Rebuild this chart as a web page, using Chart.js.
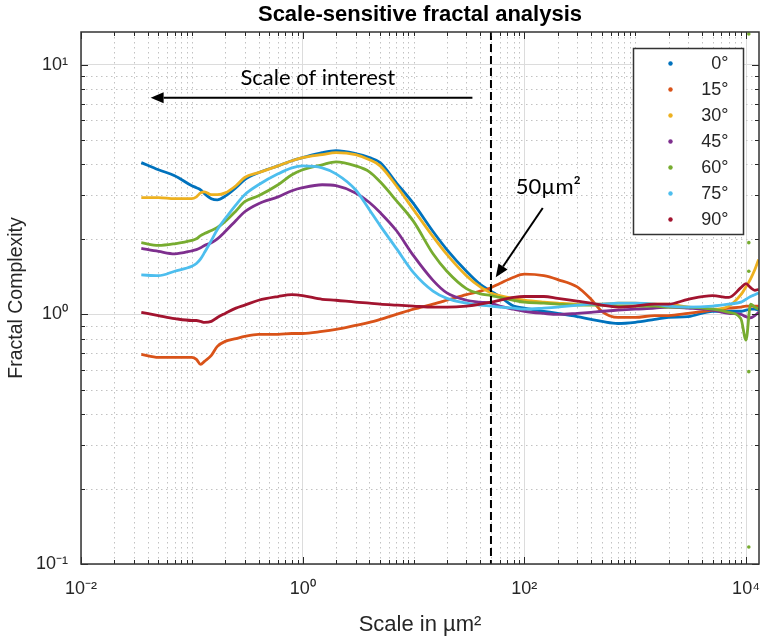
<!DOCTYPE html>
<html>
<head>
<meta charset="utf-8">
<script src="https://cdn.jsdelivr.net/npm/chart.js@4.4.1/dist/chart.umd.min.js"></script>
<style>
  html, body { margin: 0; padding: 0; background: #ffffff; }
  #wrap { width: 764px; height: 641px; position: relative; }
  canvas { display: block; }
</style>
</head>
<body>
<div id="wrap"><canvas id="c" width="764" height="641"></canvas></div>
<script>
// ---------- data ----------
const scaleValues = [0.035, 0.05, 0.07, 0.1, 0.11, 0.12, 0.13, 0.15, 0.17, 0.2, 0.25, 0.3, 0.4, 0.6, 0.8, 1, 1.5, 2, 3, 4, 5, 7, 10, 15, 20, 30, 40, 50, 60, 80, 100, 150, 200, 300, 400, 500, 700, 1000, 1500, 2000, 3000, 5000, 7000, 9000, 10000, 11000, 12000, 13000];

const angleLabels = ['0°', '15°', '30°', '45°', '60°', '75°', '90°'];

const deg0  = [4.06, 3.80, 3.60, 3.28, 3.22, 3.16, 3.05, 2.91, 2.88, 2.98, 3.22, 3.47, 3.70, 3.94, 4.13, 4.25, 4.45, 4.53, 4.41, 4.25, 4.06, 3.37, 2.78, 2.15, 1.82, 1.49, 1.32, 1.24, 1.18, 1.08, 1.06, 1.03, 1.01, 0.98, 0.955, 0.938, 0.92, 0.93, 0.955, 0.973, 0.98, 1.03, 1.03, 1.03, 1.04, 1.05, 1.05, 1.04];
const deg15 = [0.692, 0.673, 0.673, 0.673, 0.661, 0.631, 0.649, 0.686, 0.745, 0.78, 0.80, 0.817, 0.832, 0.832, 0.839, 0.839, 0.855, 0.871, 0.904, 0.929, 0.955, 1.0, 1.05, 1.10, 1.14, 1.20, 1.24, 1.28, 1.33, 1.41, 1.45, 1.43, 1.38, 1.29, 1.15, 1.03, 0.973, 0.973, 0.99, 0.99, 1.01, 1.04, 1.06, 1.07, 1.08, 1.08, 1.08, 1.08];
const deg30 = [2.94, 2.94, 2.91, 2.91, 2.96, 3.07, 3.10, 3.02, 3.02, 3.07, 3.28, 3.54, 3.70, 3.94, 4.13, 4.25, 4.37, 4.45, 4.37, 4.17, 3.94, 3.28, 2.63, 2.05, 1.74, 1.43, 1.29, 1.22, 1.19, 1.16, 1.14, 1.12, 1.11, 1.10, 1.10, 1.10, 1.11, 1.11, 1.10, 1.10, 1.07, 1.05, 1.08, 1.20, 1.29, 1.39, 1.51, 1.66];
const deg45 = [1.84, 1.79, 1.75, 1.80, 1.82, 1.85, 1.89, 1.94, 2.01, 2.15, 2.38, 2.58, 2.78, 2.96, 3.13, 3.22, 3.31, 3.28, 3.07, 2.81, 2.56, 2.17, 1.72, 1.37, 1.22, 1.14, 1.12, 1.11, 1.08, 1.05, 1.03, 1.01, 1.00, 1.01, 1.02, 1.03, 1.04, 1.05, 1.06, 1.07, 1.06, 1.04, 1.01, 1.00, 0.98, 0.97, 0.99, 1.02];
const deg60 = [1.94, 1.89, 1.92, 1.98, 2.01, 2.07, 2.11, 2.17, 2.23, 2.36, 2.60, 2.83, 2.99, 3.31, 3.63, 3.80, 3.98, 4.09, 3.94, 3.73, 3.40, 2.86, 2.36, 1.75, 1.49, 1.27, 1.21, 1.19, 1.17, 1.14, 1.12, 1.11, 1.10, 1.09, 1.09, 1.09, 1.08, 1.08, 1.08, 1.07, 1.07, 1.05, 1.02, 0.96, 0.79, 1.10, 1.07, 1.05];
const deg75 = [1.44, 1.43, 1.49, 1.56, 1.60, 1.67, 1.77, 1.98, 2.19, 2.42, 2.75, 3.02, 3.31, 3.66, 3.87, 3.94, 3.87, 3.66, 3.16, 2.63, 2.27, 1.84, 1.47, 1.24, 1.16, 1.11, 1.09, 1.08, 1.07, 1.06, 1.05, 1.06, 1.07, 1.09, 1.10, 1.10, 1.11, 1.11, 1.10, 1.08, 1.07, 1.08, 1.10, 1.12, 1.15, 1.18, 1.20, 1.22];
const deg90 = [1.02, 0.99, 0.963, 0.946, 0.946, 0.938, 0.929, 0.938, 0.973, 1.01, 1.06, 1.09, 1.14, 1.18, 1.20, 1.19, 1.15, 1.14, 1.12, 1.11, 1.10, 1.09, 1.08, 1.07, 1.07, 1.08, 1.10, 1.12, 1.14, 1.17, 1.18, 1.18, 1.16, 1.13, 1.11, 1.09, 1.07, 1.08, 1.10, 1.10, 1.15, 1.19, 1.17, 1.28, 1.33, 1.28, 1.25, 1.26];

// isolated 60° points at the far right
const deg60StrayX = [10600, 10600, 10600, 10600, 10600];
const deg60StrayY = [13.3, 1.94, 1.49, 0.59, 0.117];

const xTickValues = [0.01, 1, 100, 10000];
const xTickLabels = ['10⁻²', '10⁰', '10²', '10⁴'];
const yTickValues = [0.1, 1, 10];
const yTickLabels = ['10⁻¹', '10⁰', '10¹'];

const markerScale = 50;           // 50 µm² dashed marker
const titleText = 'Scale-sensitive fractal analysis';
const xTitle = 'Scale in µm²';
const yTitle = 'Fractal Complexity';
const noteInterest = 'Scale of interest';
const noteMarker = '50µm²';

// ---------- styles ----------
const series = [deg0, deg15, deg30, deg45, deg60, deg75, deg90];
const seriesColors = ['#0072BD', '#D95319', '#EDB120', '#7E2F8E', '#77AC30', '#4DBEEE', '#A2142F'];
const axisFont = 'Liberation Sans, Arial, Helvetica, sans-serif';
const noteFont = 'Lato, "Open Sans", sans-serif';
const inkColor = '#262626';

// annotation anchors in data space
const interestArrow = { x0: 34, x1: 0.0425, y: 7.38 };
const interestText = { x: 1.37, y: 8.87 };
const markerText = { x: 83.6, y: 3.24 };
const markerArrow = { x0: 146.6, y0: 2.67, x1: 55.2, y1: 1.41 };

function minorValues(min, max, majors) {
  const out = [];
  for (let e = Math.floor(Math.log10(min)); e <= Math.ceil(Math.log10(max)); e++) {
    for (let m = 1; m <= 9; m++) {
      const v = m * Math.pow(10, e);
      if (v > min * 1.0001 && v < max * 0.9999 && !majors.some(t => Math.abs(t - v) / t < 1e-6)) out.push(v);
    }
  }
  return out;
}

function drawArrow(ctx, x0, y0, x1, y1, headLen, headHalf) {
  const ang = Math.atan2(y1 - y0, x1 - x0);
  const bx = x1 - headLen * Math.cos(ang), by = y1 - headLen * Math.sin(ang);
  ctx.beginPath(); ctx.moveTo(x0, y0); ctx.lineTo(bx, by); ctx.stroke();
  ctx.beginPath();
  ctx.moveTo(x1, y1);
  ctx.lineTo(bx + headHalf * Math.sin(ang), by - headHalf * Math.cos(ang));
  ctx.lineTo(bx - headHalf * Math.sin(ang), by + headHalf * Math.cos(ang));
  ctx.closePath(); ctx.fill();
}

const decor = {
  id: 'decor',
  beforeDatasetsDraw(chart) {
    const { ctx, chartArea: a, scales: { x, y } } = chart;
    ctx.save();
    ctx.beginPath(); ctx.rect(a.left, a.top, a.right - a.left, a.bottom - a.top); ctx.clip();
    ctx.strokeStyle = '#c2c2c2';
    ctx.lineWidth = 1;
    ctx.setLineDash([1.5, 3.5]);
    for (const v of minorValues(x.min, x.max, xTickValues)) {
      const px = Math.round(x.getPixelForValue(v)) + 0.5;
      ctx.beginPath(); ctx.moveTo(px, a.top); ctx.lineTo(px, a.bottom); ctx.stroke();
    }
    for (const v of minorValues(y.min, y.max, yTickValues)) {
      const py = Math.round(y.getPixelForValue(v)) + 0.5;
      ctx.beginPath(); ctx.moveTo(a.left, py); ctx.lineTo(a.right, py); ctx.stroke();
    }
    ctx.restore();
  },
  afterDatasetsDraw(chart) {
    const { ctx, chartArea: a, scales: { x, y } } = chart;
    ctx.save();

    // dashed 50 µm² marker
    const mx = x.getPixelForValue(markerScale);
    ctx.strokeStyle = '#000';
    ctx.lineWidth = 2;
    ctx.setLineDash([8, 4]);
    ctx.beginPath(); ctx.moveTo(mx, a.top); ctx.lineTo(mx, a.bottom); ctx.stroke();
    ctx.setLineDash([]);

    // axes box + inner ticks
    ctx.strokeStyle = inkColor;
    ctx.lineWidth = 1;
    const tickAt = (isX, v, len) => {
      if (isX) {
        const px = Math.round(x.getPixelForValue(v)) + 0.5;
        ctx.beginPath(); ctx.moveTo(px, a.bottom); ctx.lineTo(px, a.bottom - len); ctx.stroke();
        ctx.beginPath(); ctx.moveTo(px, a.top); ctx.lineTo(px, a.top + len); ctx.stroke();
      } else {
        const py = Math.round(y.getPixelForValue(v)) + 0.5;
        ctx.beginPath(); ctx.moveTo(a.left, py); ctx.lineTo(a.left + len, py); ctx.stroke();
        ctx.beginPath(); ctx.moveTo(a.right, py); ctx.lineTo(a.right - len, py); ctx.stroke();
      }
    };
    for (const v of xTickValues) tickAt(true, v, 7);
    for (const v of minorValues(x.min, x.max, xTickValues)) tickAt(true, v, 4);
    for (const v of yTickValues) tickAt(false, v, 7);
    for (const v of minorValues(y.min, y.max, yTickValues)) tickAt(false, v, 4);
    ctx.lineWidth = 1.5;
    ctx.strokeStyle = '#333333';
    ctx.strokeRect(a.left, a.top, a.right - a.left, a.bottom - a.top);

    // "Scale of interest" arrow and text
    ctx.strokeStyle = '#000'; ctx.fillStyle = '#000';
    ctx.lineWidth = 2;
    const ay = y.getPixelForValue(interestArrow.y);
    drawArrow(ctx, x.getPixelForValue(interestArrow.x0), ay, x.getPixelForValue(interestArrow.x1), ay, 13, 5.5);
    ctx.font = '22px ' + noteFont;
    ctx.textAlign = 'center'; ctx.textBaseline = 'middle';
    ctx.fillText(noteInterest, x.getPixelForValue(interestText.x), y.getPixelForValue(interestText.y));

    // 50 µm² label and arrow
    ctx.textAlign = 'left';
    ctx.fillText(noteMarker, x.getPixelForValue(markerText.x), y.getPixelForValue(markerText.y));
    ctx.lineWidth = 2;
    drawArrow(ctx, x.getPixelForValue(markerArrow.x0), y.getPixelForValue(markerArrow.y0),
              x.getPixelForValue(markerArrow.x1), y.getPixelForValue(markerArrow.y1), 13, 5.5);

    // legend box
    const lw = 110, lh = 186;
    const lx = Math.round(a.right - 16 - lw) + 0.5, ly = Math.round(a.top + 16) + 0.5;
    ctx.fillStyle = '#ffffff';
    ctx.fillRect(lx, ly, lw, lh);
    ctx.strokeStyle = '#333333';
    ctx.lineWidth = 1.5;
    ctx.strokeRect(lx, ly, lw, lh);
    ctx.font = '18px ' + axisFont;
    ctx.textAlign = 'right'; ctx.textBaseline = 'middle';
    chart.data.datasets.forEach((ds, i) => {
      if (!ds.label) return;
      const ry = ly + 15 + i * 26;
      ctx.fillStyle = ds.borderColor;
      ctx.beginPath(); ctx.arc(lx + 37, ry, 2.2, 0, Math.PI * 2); ctx.fill();
      ctx.fillStyle = inkColor;
      ctx.fillText(ds.label, lx + 95, ry + 1);
    });
    ctx.restore();
  }
};

const datasets = series.map((s, i) => ({
  label: angleLabels[i],
  data: scaleValues.map((v, j) => ({ x: v, y: s[j] })),
  borderColor: seriesColors[i],
  backgroundColor: seriesColors[i],
  borderWidth: 2.8,
  pointRadius: 0,
  cubicInterpolationMode: 'monotone',
  fill: false,
  order: 20 - i
}));
datasets.push({
  label: '',
  data: deg60StrayX.map((v, j) => ({ x: v, y: deg60StrayY[j] })),
  showLine: false,
  pointRadius: 1.8,
  pointBorderWidth: 0,
  pointBackgroundColor: seriesColors[4],
  borderColor: seriesColors[4],
  order: 1
});

new Chart(document.getElementById('c'), {
  type: 'line',
  data: { datasets },
  options: {
    responsive: false,
    animation: false,
    devicePixelRatio: 1,
    layout: { padding: { left: 0, right: 5, top: 0, bottom: 0 } },
    plugins: {
      legend: { display: false },
      tooltip: { enabled: false },
      title: {
        display: true, text: titleText, fullSize: false, color: '#000',
        font: { family: axisFont, size: 22, weight: 'bold', lineHeight: 1.2 },
        padding: { top: 2, bottom: 3.6 }
      }
    },
    scales: {
      x: {
        type: 'logarithmic', position: 'bottom', min: 0.01, max: 13100,
        afterBuildTicks: s => { s.ticks = xTickValues.map(v => ({ value: v, major: true })); },
        afterFit: s => { s.height = 77; s.paddingLeft = 0; s.paddingRight = 0; },
        ticks: {
          autoSkip: false, maxRotation: 0, padding: 14, color: inkColor,
          font: { family: axisFont, size: 18 },
          callback: v => { const i = xTickValues.indexOf(v); return i >= 0 ? xTickLabels[i] : ''; }
        },
        grid: { color: '#dcdcdc', lineWidth: 1, drawTicks: false },
        border: { display: false },
        title: { display: true, text: xTitle, color: inkColor, font: { family: axisFont, size: 22, lineHeight: 1.2 }, padding: { top: 0, bottom: 3 } }
      },
      y: {
        type: 'logarithmic', position: 'left', min: 0.1, max: 13.55,
        afterBuildTicks: s => { s.ticks = yTickValues.map(v => ({ value: v, major: true })); },
        afterFit: s => { s.width = 81; s.paddingTop = 0; s.paddingBottom = 0; },
        ticks: {
          autoSkip: false, padding: 13, color: inkColor,
          font: { family: axisFont, size: 18 },
          callback: v => { const i = yTickValues.indexOf(v); return i >= 0 ? yTickLabels[i] : ''; }
        },
        grid: { color: '#dcdcdc', lineWidth: 1, drawTicks: false },
        border: { display: false },
        title: { display: true, text: yTitle, color: inkColor, font: { family: axisFont, size: 19.5, lineHeight: 1.2 }, padding: { top: 5.3, bottom: 0 } }
      }
    }
  },
  plugins: [decor]
});
</script>
</body>
</html>
